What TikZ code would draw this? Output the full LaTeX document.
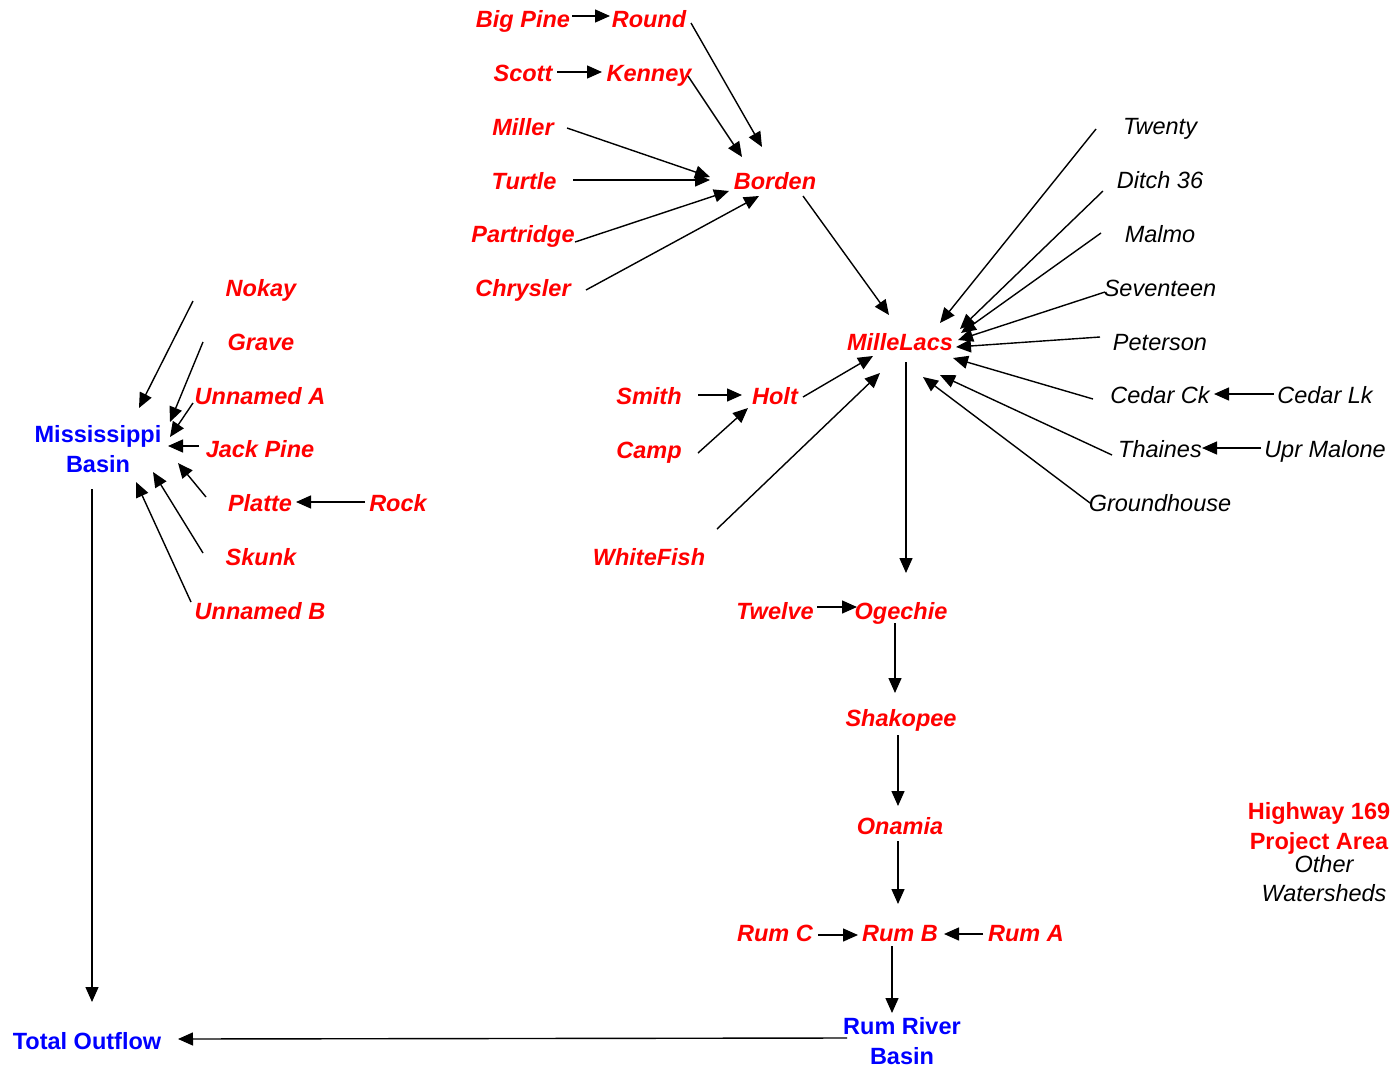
\documentclass[tikz,border=0pt]{standalone}
\usepackage{fontspec}
\setmainfont{Liberation Sans}
\usetikzlibrary{arrows.meta,calc}
\tikzset{
  rbi/.style={text=red, font=\fontsize{23.5}{30}\selectfont\bfseries\itshape, anchor=base, inner sep=0pt},
  bki/.style={text=black, font=\fontsize{23.5}{30}\selectfont\itshape, anchor=base, inner sep=0pt},
  bbl/.style={text=blue, font=\fontsize{23.5}{30}\selectfont\bfseries, inner sep=0pt, align=center},
  arr/.style={draw=black, line width=1.4pt, -{Triangle[length=15pt,width=13pt]}},
}
\begin{document}
\begin{tikzpicture}[x=1pt,y=-1pt]
\clip (0,0) rectangle (1393,1069);
\fill[white] (0,0) rectangle (1393,1069);
% red nodes
\node[rbi] (bigpine) at (523,27) {Big Pine};
\node[rbi] (round) at (649,27) {Round};
\node[rbi] (scott) at (523,81) {Scott};
\node[rbi] (kenney) at (649,81) {Kenney};
\node[rbi] (miller) at (523,135) {Miller};
\node[rbi] (turtle) at (524,189) {Turtle};
\node[rbi] (partridge) at (523,242) {Partridge};
\node[rbi] (chrysler) at (523,296) {Chrysler};
\node[rbi] (borden) at (775,189) {Borden};
\node[rbi] (millelacs) at (900,350) {MilleLacs};
\node[rbi] (smith) at (649,404) {Smith};
\node[rbi] (holt) at (775,404) {Holt};
\node[rbi] (camp) at (649,458) {Camp};
\node[rbi] (whitefish) at (649,565) {WhiteFish};
\node[rbi] (twelve) at (775,619) {Twelve};
\node[rbi] (ogechie) at (901,619) {Ogechie};
\node[rbi] (shakopee) at (901,726) {Shakopee};
\node[rbi] (onamia) at (900,834) {Onamia};
\node[rbi] (rumc) at (775,941) {Rum C};
\node[rbi] (rumb) at (900,941) {Rum B};
\node[rbi] (ruma) at (1026,941) {Rum A};
\node[rbi] (nokay) at (261,296) {Nokay};
\node[rbi] (grave) at (261,350) {Grave};
\node[rbi] (unnameda) at (260,404) {Unnamed A};
\node[rbi] (jackpine) at (260,457) {Jack Pine};
\node[rbi] (platte) at (260,511) {Platte};
\node[rbi] (rock) at (398,511) {Rock};
\node[rbi] (skunk) at (261,565) {Skunk};
\node[rbi] (unnamedb) at (260,619) {Unnamed B};
% black italic nodes
\node[bki] (twenty) at (1160,134) {Twenty};
\node[bki] (ditch) at (1160,188) {Ditch 36};
\node[bki] (malmo) at (1160,242) {Malmo};
\node[bki] (seventeen) at (1160,296) {Seventeen};
\node[bki] (peterson) at (1160,350) {Peterson};
\node[bki] (cedarck) at (1160,403) {Cedar Ck};
\node[bki] (cedarlk) at (1325,403) {Cedar Lk};
\node[bki] (thaines) at (1160,457) {Thaines};
\node[bki] (uprmalone) at (1325,457) {Upr Malone};
\node[bki] (groundhouse) at (1160,511) {Groundhouse};
% blue nodes
\node[bbl] (miss) at (98,449) {Mississippi\\Basin};
\node[bbl, anchor=base] (total) at (87,1049) {Total Outflow};
\node[bbl] (rumriver) at (902,1041) {Rum River\\Basin};
% legend
\node[text=red, font=\fontsize{23.5}{30}\selectfont\bfseries, align=center, inner sep=0pt] (hwy) at (1319,828) {Highway 169\\Project Area};
\node[text=black, font=\fontsize{23.5}{29}\selectfont\itshape, align=center, inner sep=0pt] (other) at (1324,879) {Other\\Watersheds};
% connectors
\draw[arr] ($(bigpine.base)+(49,-11)$) -- ($(round.base)+(-39,-11)$);
\draw[arr] ($(scott.base)+(34,-9)$) -- ($(kenney.base)+(-47,-9)$);
\draw[arr] ($(round.base)+(42,-4)$) -- ($(borden.base)+(-13,-42)$);
\draw[arr] ($(kenney.base)+(39,-5)$) -- ($(borden.base)+(-33,-32)$);
\draw[arr] ($(miller.base)+(44,-7)$) -- ($(borden.base)+(-65,-12)$);
\draw[arr] ($(turtle.base)+(49,-9)$) -- ($(borden.base)+(-65,-9)$);
\draw[arr] ($(partridge.base)+(52,0)$) -- ($(borden.base)+(-46,2)$);
\draw[arr] ($(chrysler.base)+(63,-6)$) -- ($(borden.base)+(-16,7)$);
\draw[arr] ($(borden.base)+(28,7)$) -- ($(millelacs.base)+(-11,-35)$);
\draw[arr] ($(twenty.base)+(-64,-5)$) -- ($(millelacs.base)+(40,-27)$);
\draw[arr] ($(ditch.base)+(-57,3)$) -- ($(millelacs.base)+(60,-21)$);
\draw[arr] ($(malmo.base)+(-59,-9)$) -- ($(millelacs.base)+(61,-17)$);
\draw[arr] ($(seventeen.base)+(-55,-4)$) -- ($(millelacs.base)+(58,-10)$);
\draw[arr] ($(peterson.base)+(-60,-13)$) -- ($(millelacs.base)+(56,-3)$);
\draw[arr] ($(cedarck.base)+(-67,-4)$) -- ($(millelacs.base)+(53,8)$);
\draw[arr] ($(thaines.base)+(-48,-2)$) -- ($(millelacs.base)+(40,25)$);
\draw[arr] ($(groundhouse.base)+(-70,-8)$) -- ($(millelacs.base)+(23,27)$);
\draw[arr] ($(cedarlk.base)+(-51,-9)$) -- ($(cedarck.base)+(54,-9)$);
\draw[arr] ($(uprmalone.base)+(-64,-9)$) -- ($(thaines.base)+(42,-9)$);
\draw[arr] ($(millelacs.base)+(6,12)$) -- ($(ogechie.base)+(5,-46)$);
\draw[arr] ($(smith.base)+(49,-9)$) -- ($(holt.base)+(-33,-9)$);
\draw[arr] ($(camp.base)+(49,-5)$) -- ($(holt.base)+(-27,4)$);
\draw[arr] ($(holt.base)+(28,-7)$) -- ($(millelacs.base)+(-27,6)$);
\draw[arr] ($(whitefish.base)+(68,-36)$) -- ($(millelacs.base)+(-20,23)$);
\draw[arr] ($(twelve.base)+(42,-12)$) -- ($(ogechie.base)+(-44,-12)$);
\draw[arr] ($(ogechie.base)+(-6,4)$) -- ($(shakopee.base)+(-6,-33)$);
\draw[arr] ($(shakopee.base)+(-3,9)$) -- ($(onamia.base)+(-2,-28)$);
\draw[arr] ($(onamia.base)+(-2,7)$) -- ($(rumb.base)+(-2,-37)$);
\draw[arr] ($(rumc.base)+(43,-6)$) -- ($(rumb.base)+(-42,-6)$);
\draw[arr] ($(ruma.base)+(-43,-7)$) -- ($(rumb.base)+(44,-7)$);
\draw[arr] ($(rumb.base)+(-8,5)$) -- ($(rumriver)+(-10,-28)$);
\draw[arr] ($(rumriver)+(-55,-3)$) -- ($(total.base)+(91,-10)$);
\draw[arr] ($(miss)+(-6,40)$) -- ($(total.base)+(5,-47)$);
\draw[arr] ($(nokay.base)+(-68,5)$) -- ($(miss)+(41,-41)$);
\draw[arr] ($(grave.base)+(-58,-8)$) -- ($(miss)+(72,-27)$);
\draw[arr] ($(unnameda.base)+(-67,-1)$) -- ($(miss)+(72,-12)$);
\draw[arr] ($(jackpine.base)+(-61,-11)$) -- ($(miss)+(70,-3)$);
\draw[arr] ($(platte.base)+(-54,-14)$) -- ($(miss)+(80,14)$);
\draw[arr] ($(skunk.base)+(-58,-12)$) -- ($(miss)+(55,23)$);
\draw[arr] ($(unnamedb.base)+(-69,-17)$) -- ($(miss)+(38,33)$);
\draw[arr] ($(rock.base)+(-33,-9)$) -- ($(platte.base)+(36,-9)$);
\end{tikzpicture}
\end{document}
